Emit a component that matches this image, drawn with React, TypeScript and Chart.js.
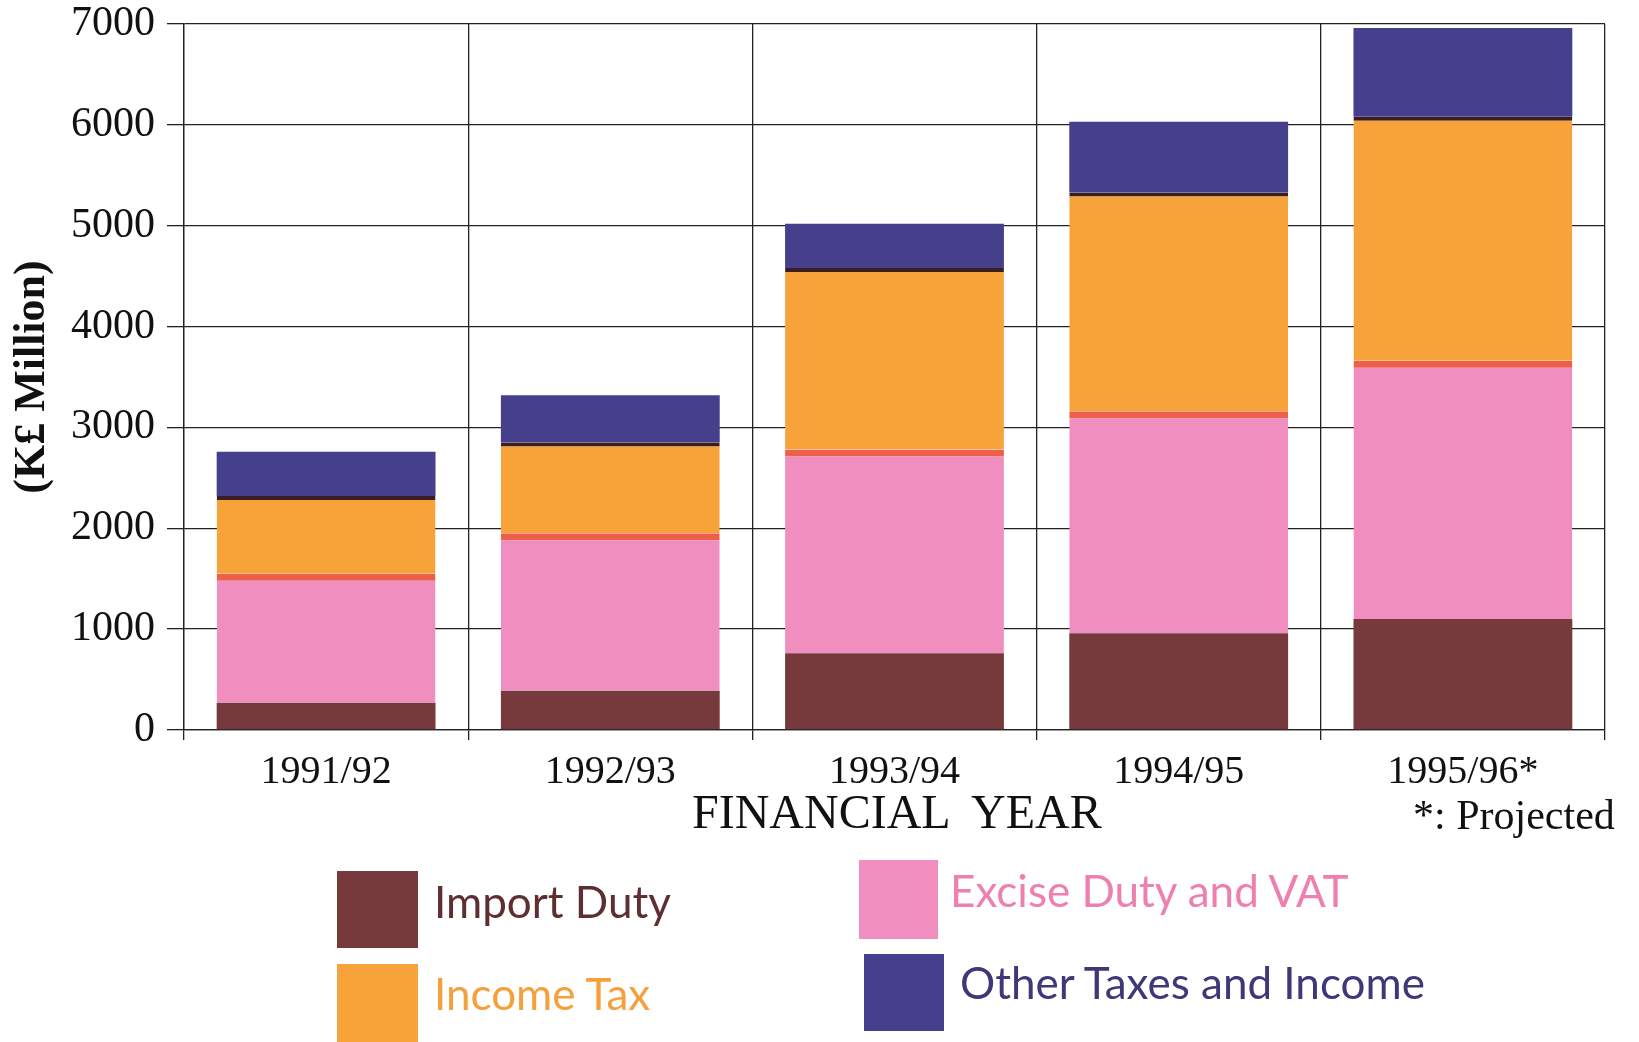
import React, { useEffect, useRef } from "react";
import { Chart, registerables } from "chart.js";

Chart.register(...registerables);

const categories = ["1991/92", "1992/93", "1993/94", "1994/95", "1995/96*"];
const importDuty = [270, 390, 760, 960, 1100];
const exciseVat = [1280, 1560, 2020, 2200, 2560];
const incomeTax = [770, 900, 1800, 2170, 2420];
const otherTaxes = [440, 470, 440, 700, 880];
const yMin = 0;
const yMax = 7000;
const yStep = 1000;

const seriesNames = ["Import Duty", "Excise Duty and VAT", "Income Tax", "Other Taxes and Income"];
const colors = {
  importDuty: "#773a3c",
  excise: "#f08fbf",
  exciseEdge: "#ee5e48",
  income: "#f8a23a",
  incomeEdge: "#3a1f22",
  other: "#463f8c",
};

const W = 1639;
const H = 1042;

export default function App() {
  const ref = useRef<HTMLCanvasElement | null>(null);

  useEffect(() => {
    if (!ref.current) return;
    const serif = "'Liberation Serif', 'Times New Roman', serif";
    const chart = new Chart(ref.current, {
      type: "bar",
      data: {
        labels: categories,
        datasets: [
          {
            label: seriesNames[0],
            data: importDuty,
            backgroundColor: colors.importDuty,
            borderWidth: 0,
          },
          {
            label: seriesNames[1],
            data: exciseVat,
            backgroundColor: colors.excise,
            borderColor: colors.exciseEdge,
            borderWidth: { top: 7, left: 0, right: 0, bottom: 0 },
            borderSkipped: false,
          },
          {
            label: seriesNames[2],
            data: incomeTax,
            backgroundColor: colors.income,
            borderColor: colors.incomeEdge,
            borderWidth: { top: 4, left: 0, right: 0, bottom: 0 },
            borderSkipped: false,
          },
          {
            label: seriesNames[3],
            data: otherTaxes,
            backgroundColor: colors.other,
            borderWidth: 0,
          },
        ],
      },
      options: {
        responsive: false,
        animation: false,
        maintainAspectRatio: false,
        layout: { padding: { left: 0, right: 34, top: 24, bottom: 0 } },
        datasets: {
          bar: { barPercentage: 0.77, categoryPercentage: 1 },
        },
        plugins: {
          legend: { display: false },
          tooltip: { enabled: false },
        },
        scales: {
          x: {
            stacked: true,
            offset: true,
            grid: {
              offset: true,
              color: "#222",
              lineWidth: 1.3,
              drawTicks: true,
              tickLength: 10,
            },
            border: { display: true, color: "#222", width: 1.3 },
            ticks: {
              color: "#111",
              font: { family: serif, size: 40 },
              padding: 8,
              maxRotation: 0,
            },
            afterFit: (scale: any) => {
              scale.height = 312;
              scale.paddingLeft = 0;
              scale.paddingRight = 0;
            },
          },
          y: {
            stacked: true,
            min: yMin,
            max: yMax,
            ticks: {
              stepSize: yStep,
              color: "#111",
              font: { family: serif, size: 42 },
              padding: 12,
              callback: (v: any) => String(v),
            },
            grid: {
              color: "#222",
              lineWidth: 1.3,
              drawTicks: true,
              tickLength: 17,
            },
            border: { display: true, color: "#222", width: 1.3 },
            title: {
              display: true,
              text: "(K£ Million)",
              color: "#111",
              font: { family: serif, size: 44, weight: "bold" },
              padding: { top: 6, bottom: 0 },
            },
            afterFit: (scale: any) => {
              scale.width = 184;
              scale.paddingTop = 0;
              scale.paddingBottom = 0;
            },
          },
        },
      },
    });
    return () => chart.destroy();
  }, []);

  const serif = "'Liberation Serif', 'Times New Roman', serif";
  const sans = "Lato, 'Open Sans', sans-serif";
  const legendItems = [
    { name: seriesNames[0], color: colors.importDuty, textColor: "#5e2e30", sx: 337, sy: 871, sw: 81, sh: 77, tx: 434, ty: 901 },
    { name: seriesNames[2], color: colors.income, textColor: "#f6a03c", sx: 337, sy: 964, sw: 81, sh: 78, tx: 434, ty: 993 },
    { name: seriesNames[1], color: colors.excise, textColor: "#ee7fb0", sx: 859, sy: 860, sw: 79, sh: 79, tx: 950, ty: 890 },
    { name: seriesNames[3], color: colors.other, textColor: "#3e3878", sx: 864, sy: 954, sw: 80, sh: 77, tx: 960, ty: 982 },
  ];

  return (
    <div style={{ position: "absolute", left: 0, top: 0, width: W, height: H, background: "#fff", overflow: "hidden" }}>
      <canvas ref={ref} width={W} height={H} style={{ display: "block", width: W, height: H }} />
      <div
        style={{
          position: "absolute",
          left: 692,
          top: 812,
          transform: "translateY(-50%)",
          fontFamily: serif,
          fontSize: 48,
          lineHeight: 1,
          color: "#111",
          whiteSpace: "pre",
        }}
      >
        {"FINANCIAL  YEAR"}
      </div>
      <div
        style={{
          position: "absolute",
          left: 1413,
          top: 815,
          transform: "translateY(-50%)",
          fontFamily: serif,
          fontSize: 42,
          lineHeight: 1,
          color: "#111",
          whiteSpace: "pre",
        }}
      >
        {"*: Projected"}
      </div>
      {legendItems.map((it) => (
        <React.Fragment key={it.name}>
          <div
            style={{
              position: "absolute",
              left: it.sx,
              top: it.sy,
              width: it.sw,
              height: it.sh,
              background: it.color,
            }}
          />
          <div
            style={{
              position: "absolute",
              left: it.tx,
              top: it.ty,
              transform: "translateY(-50%)",
              fontFamily: sans,
              fontSize: 44,
              lineHeight: 1,
              color: it.textColor,
              whiteSpace: "pre",
            }}
          >
            {it.name}
          </div>
        </React.Fragment>
      ))}
    </div>
  );
}
